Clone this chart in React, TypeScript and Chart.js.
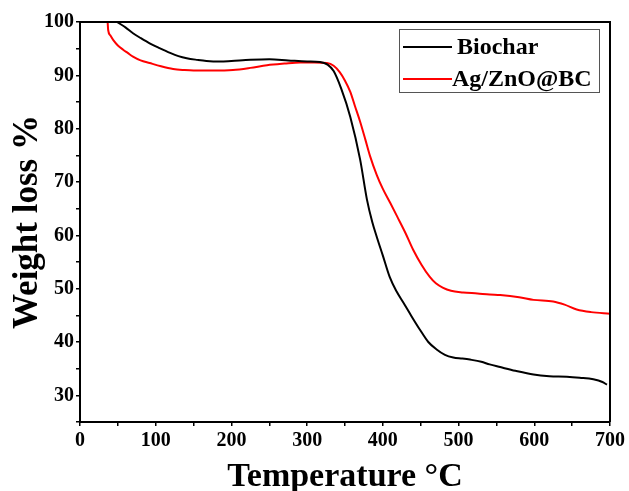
import React, { useEffect, useRef } from "react";
import { Chart, registerables } from "chart.js";
Chart.register(...registerables);

const FONT = '"Liberation Serif", "Times New Roman", serif';

const biocharTemp = [49, 60, 70, 80, 92, 105, 119, 130, 141, 155, 167, 185, 200, 225, 250, 275, 300, 317, 327, 335, 345, 357, 370, 379, 386, 392, 400, 409, 418, 427, 438, 449, 460, 471, 482, 493, 505, 515, 530, 541, 555, 575, 599, 620, 643, 660, 678, 690, 696];
const biocharWeight = [100, 99.0, 97.9, 97.0, 96.0, 95.1, 94.2, 93.6, 93.2, 92.9, 92.7, 92.6, 92.7, 92.9, 93.0, 92.8, 92.6, 92.5, 92.0, 90.8, 87.5, 82.2, 74.2, 66.7, 62.5, 59.7, 56.2, 52.2, 49.5, 47.4, 44.8, 42.3, 40.0, 38.6, 37.6, 37.1, 36.9, 36.7, 36.3, 35.8, 35.3, 34.6, 33.9, 33.6, 33.5, 33.3, 33.0, 32.5, 32.0];

const agTemp = [36.5, 37.2, 40, 44, 50, 57, 63, 70, 80, 92, 107, 123, 137, 150, 175, 202, 225, 247, 270, 291, 310, 326, 335, 343, 350, 357, 363, 370, 377, 383, 392, 400, 410, 419, 430, 440, 451, 462, 470, 479, 490, 506, 525, 541, 555, 580, 599, 625, 640, 656, 675, 700];
const agWeight = [100, 98.5, 97.5, 96.6, 95.6, 94.8, 94.2, 93.5, 92.8, 92.3, 91.7, 91.2, 91.0, 90.9, 90.9, 91.0, 91.4, 91.9, 92.2, 92.4, 92.4, 92.3, 91.8, 90.6, 89.0, 86.9, 84.3, 81.3, 77.9, 74.9, 71.3, 68.7, 66.0, 63.5, 60.4, 57.3, 54.5, 52.2, 51.0, 50.2, 49.6, 49.3, 49.1, 48.9, 48.8, 48.4, 47.9, 47.6, 47.0, 46.1, 45.6, 45.3];

const seriesLabels = ["Biochar", "Ag/ZnO@BC"];
const seriesColors = ["#000000", "#ff0000"];

const framePlugin = {
  id: "frame",
  afterDraw(chart: any) {
    const { ctx, chartArea: a } = chart;
    ctx.save();
    ctx.strokeStyle = "#000";
    ctx.lineWidth = 2;
    ctx.beginPath();
    ctx.moveTo(a.left, a.top);
    ctx.lineTo(a.right, a.top);
    ctx.lineTo(a.right, a.bottom);
    ctx.stroke();
    // legend
    const bx = 399, by = 29, bw = 200, bh = 63;
    ctx.fillStyle = "#fff";
    ctx.fillRect(bx, by, bw, bh);
    ctx.strokeStyle = "#555";
    ctx.lineWidth = 1;
    ctx.strokeRect(bx + 0.5, by + 0.5, bw, bh);
    const rows = [47, 79];
    ctx.font = `bold 24px ${FONT}`;
    ctx.textBaseline = "alphabetic";
    ctx.textAlign = "left";
    seriesLabels.forEach((lab, i) => {
      ctx.strokeStyle = seriesColors[i];
      ctx.lineWidth = 2;
      ctx.beginPath();
      ctx.moveTo(403, rows[i]);
      ctx.lineTo(452, rows[i]);
      ctx.stroke();
      ctx.fillStyle = "#000";
      ctx.fillText(lab, i === 0 ? 457 : 452, rows[i] + 7);
    });
    ctx.restore();
  },
};

export default function App() {
  const ref = useRef<HTMLCanvasElement>(null);
  useEffect(() => {
    document.body.style.margin = "0";
    const tickFont = { family: FONT, size: 20, weight: "bold" as const };
    const chart = new Chart(ref.current!, {
      type: "scatter",
      data: {
        datasets: [
          {
            label: seriesLabels[0],
            data: biocharTemp.map((x, i) => ({ x, y: biocharWeight[i] })),
            borderColor: seriesColors[0],
            backgroundColor: seriesColors[0],
            showLine: true,
            pointRadius: 0,
            borderWidth: 2,
            cubicInterpolationMode: "monotone",
          },
          {
            label: seriesLabels[1],
            data: agTemp.map((x, i) => ({ x, y: agWeight[i] })),
            borderColor: seriesColors[1],
            backgroundColor: seriesColors[1],
            showLine: true,
            pointRadius: 0,
            borderWidth: 2,
            cubicInterpolationMode: "monotone",
          },
        ],
      },
      options: {
        responsive: false,
        animation: false,
        layout: { padding: { top: 22, right: 19, left: 0, bottom: 0 } },
        plugins: { legend: { display: false }, tooltip: { enabled: false } },
        scales: {
          x: {
            type: "linear",
            min: 0,
            max: 700,
            border: { color: "#000", width: 2 },
            grid: { drawOnChartArea: false, drawTicks: true, tickLength: 4, color: "#000", lineWidth: 1.5 },
            ticks: {
              stepSize: 50,
              autoSkip: false,
              maxRotation: 0,
              padding: 3,
              color: "#000",
              font: tickFont,
              callback: (v: any) => (Number(v) % 100 === 0 ? String(v) : ""),
            },
            title: { display: true, text: "Temperature °C", color: "#000", font: { family: FONT, size: 34, weight: "bold", lineHeight: 1 }, padding: { top: 0, bottom: -3 } },
            afterFit: (s: any) => {
              s.height = 69;
            },
          },
          y: {
            type: "linear",
            min: 25,
            max: 100,
            border: { color: "#000", width: 2 },
            grid: { drawOnChartArea: false, drawTicks: true, tickLength: 4, color: "#000", lineWidth: 1.5 },
            ticks: {
              stepSize: 5,
              autoSkip: false,
              padding: 2,
              color: "#000",
              font: tickFont,
              callback: (v: any) => (Number(v) % 10 === 0 ? String(v) : ""),
            },
            title: { display: true, text: "Weight loss %", color: "#000", font: { family: FONT, size: 35, weight: "bold", lineHeight: 1 }, padding: { top: 10, bottom: 0 } },
            afterFit: (s: any) => {
              s.width = 80;
            },
          },
        },
      },
      plugins: [framePlugin],
    } as any);
    return () => chart.destroy();
  }, []);
  return <canvas ref={ref} width={629} height={491} style={{ display: "block" }} />;
}
